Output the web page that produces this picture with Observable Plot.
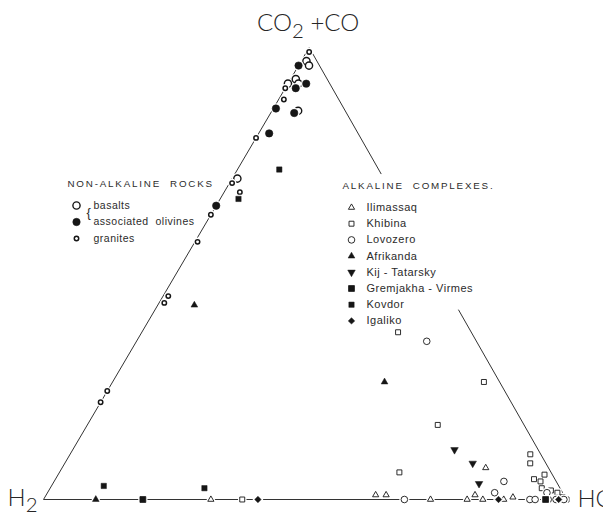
<!DOCTYPE html>
<html>
<head>
<meta charset="utf-8">
<script src="https://cdn.jsdelivr.net/npm/d3@7"></script>
<script src="https://cdn.jsdelivr.net/npm/@observablehq/plot@0.6"></script>
<style>
  html, body { margin: 0; padding: 0; background: #fff; }
  #chart svg { display: block; }
</style>
</head>
<body>
<div id="chart"></div>
<script>
// Gas compositions, each point as [H2, HC, CO2+CO] in per cent.

// Non-alkaline rocks
const basalts = [[2, 1, 97], [2, 2, 96], [6, 1, 93], [8, 0, 92], [6, 2, 92], [9, 5, 86], [28, 1, 71]];
const olivines = [[4, 0, 96], [7, 2, 91], [4.5, 3.5, 92], [13, 0.5, 86.5], [10, 4.5, 85.5], [17, 2, 81], [35, 0, 65]];
const granites = [[0.5, 0.5, 99], [9, 0, 91], [10.5, 1, 88.5], [20, 0, 80], [29.5, 0.5, 70], [29, 3, 68], [37, 0, 63],
  [42.5, 0.5, 57], [54, 1, 45], [55.5, 1, 43.5], [76, 0, 24], [78.5, 0, 21.5]];

// Alkaline complexes
const ilimassaq = [[68, 32, 0], [36, 63, 1], [34, 65, 1], [26, 74, 0], [19, 81, 0], [17, 82, 1], [16, 84, 0],
  [12, 81, 7], [12, 88, 0], [10, 89.5, 0.5]];
const khibina = [[62, 38, 0], [14, 49, 37], [3, 71, 26], [16.5, 67, 16.5], [29, 65, 6], [2, 88, 10], [3, 89, 8],
  [4, 91.5, 4.5], [1.5, 93, 5.5], [3, 93, 4], [3.5, 94, 2.5], [2, 96, 2], [1, 97.5, 1.5], [0.5, 99, 0.5], [0, 100, 0]];
const lovozero = [[9.5, 55.5, 35], [31, 69, 0], [10, 86, 4], [13, 85.5, 1.5], [7, 93, 0], [6, 94, 0],
  [3, 95.5, 1.5], [3.5, 96.5, 0], [2, 98, 0], [0.5, 99.5, 0]];
const afrikanda = [[50, 7, 43], [22, 52, 26], [90, 10, 0]];
const kijTatarsky = [[16, 73, 11], [14, 78, 8], [15, 81.5, 3.5]];
const gremjakha = [[81, 19, 0], [4, 96, 0]];
const kovdor = [[19, 8, 73], [30, 3.5, 66.5], [87, 10, 3], [68, 29.5, 2.5]];
const igaliko = [[59, 41, 0], [13, 87, 0], [1.5, 98.5, 0]];

// Vertex names
const vertexNames = ["H2", "HC", "CO2+CO"];

// Stretches of the HC – CO2+CO side that are drawn, as CO2+CO fraction
const rightEdgeSegments = [[0.987, 0.72], [0.42, 0.015]];

const nonAlkalineTitle = "NON-ALKALINE  ROCKS";
const alkalineTitle = "ALKALINE  COMPLEXES.";

const nonAlkalineSeries = [
  {name: "basalts", values: basalts},
  {name: "associated  olivines", values: olivines},
  {name: "granites", values: granites}
];
const alkalineSeries = [
  {name: "Ilimassaq", values: ilimassaq},
  {name: "Khibina", values: khibina},
  {name: "Lovozero", values: lovozero},
  {name: "Afrikanda", values: afrikanda},
  {name: "Kij - Tatarsky", values: kijTatarsky},
  {name: "Gremjakha - Virmes", values: gremjakha},
  {name: "Kovdor", values: kovdor},
  {name: "Igaliko", values: igaliko}
];

// Marker styles per series
const INK = "#161616";
const markerStyle = {
  "basalts":              {symbol: "circle",   r: 3.6, fill: "white", stroke: INK, strokeWidth: 1.4},
  "associated  olivines": {symbol: "circle",   r: 3.7, fill: INK,     stroke: INK, strokeWidth: 0.6},
  "granites":             {symbol: "circle",   r: 2.2, fill: "white", stroke: INK, strokeWidth: 1.5},
  "Ilimassaq":            {symbol: "triangle", r: 2.3, fill: "white", stroke: INK, strokeWidth: 0.9},
  "Khibina":              {symbol: "square",   r: 2.8, fill: "white", stroke: INK, strokeWidth: 0.9},
  "Lovozero":             {symbol: "circle",   r: 3.3, fill: "white", stroke: INK, strokeWidth: 0.9},
  "Afrikanda":            {symbol: "triangle", r: 2.5, fill: INK,     stroke: INK, strokeWidth: 0.5},
  "Kij - Tatarsky":       {symbol: "triangle", r: 2.8, fill: INK,     stroke: INK, strokeWidth: 0.5, rotate: 180},
  "Gremjakha - Virmes":   {symbol: "square",   r: 3.3, fill: INK,     stroke: INK, strokeWidth: 0.8},
  "Kovdor":               {symbol: "square",   r: 3.0, fill: INK,     stroke: INK, strokeWidth: 0.5},
  "Igaliko":              {symbol: "diamond2", r: 2.9, fill: INK,     stroke: INK, strokeWidth: 0.5}
};

// Ternary projection: HC runs along the base, CO2+CO upwards to the apex.
const APEX = 0.508; // horizontal position of the CO2+CO apex along the base
function project([h2, hc, co]) {
  const s = h2 + hc + co;
  const b = hc / s, c = co / s;
  return {x: b + APEX * c, y: c};
}

const vH2 = project([100, 0, 0]);
const vHC = project([0, 100, 0]);
const vCO = project([0, 0, 100]);

const edges = [
  {a: vH2, b: vHC},
  {a: vH2, b: vCO},
  ...rightEdgeSegments.map(([c1, c2]) => ({
    a: project([0, 100 - c1 * 100, c1 * 100]),
    b: project([0, 100 - c2 * 100, c2 * 100])
  }))
];

const allSeries = [...nonAlkalineSeries, ...alkalineSeries];

function seriesMarks(s) {
  const st = markerStyle[s.name];
  const pts = s.values.map(project);
  return [
    // white halo so the triangle sides break around each marker
    Plot.dot(pts, {x: "x", y: "y", symbol: st.symbol, r: st.r, rotate: st.rotate || 0,
      fill: "white", stroke: "white", strokeWidth: st.strokeWidth + 2.6}),
    Plot.dot(pts, {x: "x", y: "y", symbol: st.symbol, r: st.r, rotate: st.rotate || 0,
      fill: st.fill, stroke: st.stroke, strokeWidth: st.strokeWidth})
  ];
}

const TEXT = "#2b2b2b";
const LEGEND_FONT = "Liberation Sans, Arial, sans-serif";

function legendMarks(title, titlePos, list, symX, textX, rowY, rowStep, fontSize) {
  const marks = [
    Plot.text([title], {frameAnchor: "top-left", dx: titlePos[0], dy: titlePos[1], text: d => d,
      textAnchor: "start", lineAnchor: "middle", fontSize: 9.8, fill: TEXT, fontFamily: LEGEND_FONT})
  ];
  list.forEach((s, i) => {
    const st = markerStyle[s.name];
    const y = rowY + i * rowStep;
    marks.push(
      Plot.dot([s.name], {frameAnchor: "top-left", dx: symX, dy: y, symbol: st.symbol, r: st.r,
        rotate: st.rotate || 0, fill: st.fill, stroke: st.stroke, strokeWidth: st.strokeWidth}),
      Plot.text([s.name], {frameAnchor: "top-left", dx: textX, dy: y, text: d => d,
        textAnchor: "start", lineAnchor: "middle", fontSize, fill: TEXT, fontFamily: LEGEND_FONT})
    );
  });
  return marks;
}

const vertexLabel = {fontSize: 24, fill: "#262626", fontFamily: "Lato, Roboto, Liberation Sans, sans-serif", fontWeight: 300};

const chart = Plot.plot({
  width: 603,
  height: 513,
  margin: 0,
  x: {domain: [0, 1], range: [43, 566], axis: null},
  y: {domain: [0, 1], range: [499, 47], axis: null},
  style: {background: "white"},
  marks: [
    Plot.link(edges, {x1: d => d.a.x, y1: d => d.a.y, x2: d => d.b.x, y2: d => d.b.y,
      stroke: "#333", strokeWidth: 1}),
    ...allSeries.flatMap(seriesMarks),
    // vertex labels
    Plot.text([vCO], {x: "x", y: "y", text: () => vertexNames[2], dx: -1, dy: -24,
      textAnchor: "middle", lineAnchor: "middle", ...vertexLabel}),
    Plot.text([vH2], {x: "x", y: "y", text: () => vertexNames[0], dx: -6, dy: -1,
      textAnchor: "end", lineAnchor: "middle", ...vertexLabel}),
    Plot.text([vHC], {x: "x", y: "y", text: () => vertexNames[1], dx: 11, dy: 0,
      textAnchor: "start", lineAnchor: "middle", ...vertexLabel}),
    // legends
    ...legendMarks(nonAlkalineTitle, [67, 183], nonAlkalineSeries, 76, 93, 205, 16.5, 10.5),
    Plot.text(["{"], {frameAnchor: "top-left", dx: 86, dy: 212, text: d => d, textAnchor: "start",
      lineAnchor: "middle", fontSize: 13, fill: TEXT, fontFamily: LEGEND_FONT, fontWeight: 300}),
    ...legendMarks(alkalineTitle, [342, 185], alkalineSeries, 351, 366, 207, 16.2, 11)
  ]
});

// letter spacing for legend text and subscripts for the chemical formulae
const svg = d3.select(chart);
svg.selectAll("text").each(function () {
  const t = this.textContent;
  const el = d3.select(this);
  if (t === nonAlkalineTitle || t === alkalineTitle) el.attr("letter-spacing", "1.8px");
  else if (allSeries.some(s => s.name === t)) el.attr("letter-spacing", "0.5px");
  if (t === "CO2+CO") {
    el.text(null);
    el.append("tspan").text("CO");
    el.append("tspan").attr("dy", "0.32em").attr("font-size", "0.85em").text("2");
    el.append("tspan").attr("dy", "-0.27em").text(" +CO");
  } else if (t === "H2") {
    el.text(null);
    el.append("tspan").text("H");
    el.append("tspan").attr("dy", "0.3em").attr("font-size", "0.85em").text("2");
  }
});

document.getElementById("chart").appendChild(chart);
</script>
</body>
</html>
